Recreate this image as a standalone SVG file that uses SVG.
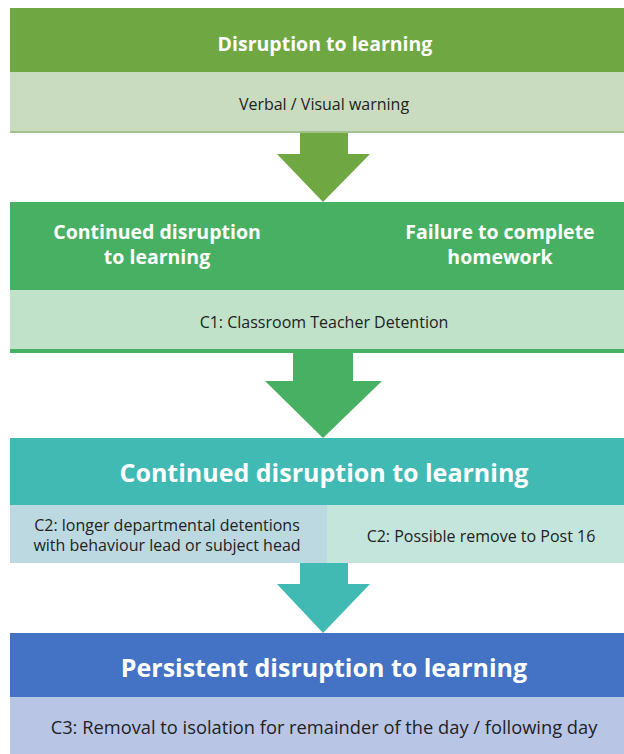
<svg xmlns="http://www.w3.org/2000/svg" width="624" height="754" viewBox="0 0 624 754">
<style>
.h{font-family:"Open Sans","Liberation Sans",sans-serif;font-weight:bold;fill:#fff;text-anchor:middle}
.s{font-family:"Open Sans","Liberation Sans",sans-serif;fill:#222;text-anchor:middle}
</style>
<rect width="624" height="754" fill="#fff"/>
<g id="connectors">
<polygon points="300,133 348,133 348,154 370,154 323,202 277,154 300,154" fill="#6fa843"/>
<polygon points="293,353 353,353 353,381 382,381 323,438 265,381 293,381" fill="#48b062"/>
<polygon points="300,563 348,563 348,584 370,584 323,633 277,584 300,584" fill="#41bab4"/>
</g>
<g id="node1">
<rect x="10" y="8" width="614" height="64" fill="#6fa843"/>
<rect x="10" y="72" width="614" height="61" fill="#cadcbf"/>
<rect x="10" y="131" width="614" height="2" fill="#a3c08f"/>
<text class="h" x="325" y="51" font-size="19.5">Disruption to learning</text>
<text class="s" x="324" y="110" font-size="16">Verbal / Visual warning</text>
</g>
<g id="node2">
<rect x="10" y="202" width="614" height="88" fill="#48b062"/>
<rect x="10" y="290" width="614" height="59" fill="#bfe2c9"/>
<rect x="10" y="349" width="614" height="4" fill="#48b062"/>
<text class="h" x="157" y="239" font-size="19.5">Continued disruption</text>
<text class="h" x="157" y="264" font-size="19.5">to learning</text>
<text class="h" x="500" y="239" font-size="19.5">Failure to complete</text>
<text class="h" x="500" y="264" font-size="19.5">homework</text>
<text class="s" x="324" y="328" font-size="16">C1: Classroom Teacher Detention</text>
</g>
<g id="node3">
<rect x="10" y="438" width="614" height="67" fill="#41bab4"/>
<rect x="10" y="505" width="317" height="58" fill="#bcd9e1"/>
<rect x="327" y="505" width="297" height="58" fill="#c3e5dc"/>
<text class="h" x="324" y="482" font-size="25">Continued disruption to learning</text>
<text class="s" x="167" y="531" font-size="16">C2: longer departmental detentions</text>
<text class="s" x="167" y="551" font-size="16">with behaviour lead or subject head</text>
<text class="s" x="481" y="542" font-size="16">C2: Possible remove to Post 16</text>
</g>
<g id="node4">
<rect x="10" y="633" width="614" height="64" fill="#4472c4"/>
<rect x="10" y="697" width="614" height="57" fill="#b9c5e5"/>
<text class="h" x="324" y="677" font-size="25">Persistent disruption to learning</text>
<text class="s" x="324" y="734" font-size="18.3">C3: Removal to isolation for remainder of the day / following day</text>
</g>
</svg>
